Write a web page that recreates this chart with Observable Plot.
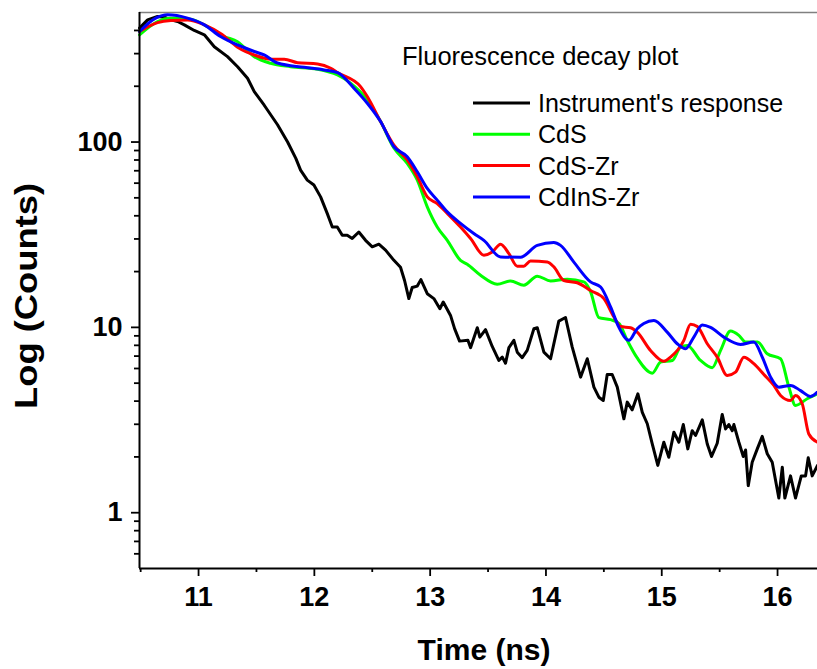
<!DOCTYPE html>
<html><head><meta charset="utf-8">
<script src="https://cdn.jsdelivr.net/npm/d3@7"></script>
<script src="https://cdn.jsdelivr.net/npm/@observablehq/plot@0.6"></script>
<style>
body{margin:0;background:#fff;}
#wrap{position:relative;width:817px;height:669px;font-family:Arial,"Liberation Sans",sans-serif;}
</style></head><body><div id="wrap"></div>
<script>
// ---- data (time in ns, counts) ----
const seriesNames = ["Instrument's response", "CdS", "CdS-Zr", "CdInS-Zr"];
const seriesColors = ["#000000", "#00ff00", "#ff0000", "#0000ff"];

const tInstr = [10.49,10.56,10.646,10.704,10.761,10.819,10.877,10.963,11.05,11.136,11.25,11.337,11.423,11.481,11.567,11.682,11.769,11.84,11.881,11.939,11.996,12.054,12.111,12.155,12.198,12.241,12.284,12.327,12.384,12.442,12.5,12.557,12.615,12.687,12.744,12.779,12.816,12.845,12.889,12.92,12.975,13.032,13.084,13.113,13.176,13.211,13.254,13.326,13.349,13.407,13.429,13.478,13.536,13.593,13.623,13.651,13.68,13.723,13.752,13.795,13.838,13.896,13.925,13.982,14.04,14.111,14.169,14.227,14.299,14.357,14.414,14.457,14.495,14.529,14.572,14.616,14.673,14.702,14.745,14.794,14.832,14.875,14.918,14.966,15.018,15.061,15.105,15.148,15.186,15.225,15.263,15.292,15.35,15.393,15.43,15.479,15.522,15.551,15.579,15.609,15.623,15.666,15.704,15.724,15.747,15.781,15.825,15.868,15.911,15.954,16.011,16.041,16.063,16.112,16.155,16.205,16.242,16.265,16.299,16.345];
const cInstr = [412,456,476,472,456,447,429,400,379,327,289,255,221,187,158,124,100,81.6,70.6,62.3,58.6,50.6,41.2,34.8,34.8,31.4,31.4,30.2,32.7,29.5,27.2,28.1,26.1,23.0,21.1,17.9,14.3,16.4,16.7,18.1,15.2,14.3,12.6,13.7,11.6,9.84,8.43,8.51,7.77,9.96,8.86,9.72,7.89,6.63,6.91,6.41,7.77,8.51,7.35,6.86,7.51,9.84,9.96,7.35,6.77,10.8,11.3,7.82,5.39,6.77,4.76,4.20,4.03,5.57,5.57,4.76,3.21,3.95,3.59,4.38,3.48,3.02,2.35,1.80,2.40,1.99,2.72,2.40,2.99,2.21,2.77,2.61,3.17,2.35,2.01,2.37,3.39,2.83,2.99,2.77,2.99,2.40,2.01,2.18,1.40,1.87,2.21,2.58,2.08,1.87,1.20,1.76,1.20,1.58,1.20,1.58,1.58,1.98,1.58,1.80];

const tCdS = [10.49,10.646,10.758,10.931,11.05,11.222,11.337,11.481,11.622,11.794,12.028,12.2,12.313,12.457,12.572,12.687,12.802,12.889,12.975,13.061,13.148,13.262,13.32,13.435,13.579,13.694,13.809,13.925,14.04,14.184,14.327,14.385,14.457,14.558,14.63,14.702,14.788,14.918,14.99,15.091,15.162,15.22,15.335,15.436,15.508,15.594,15.666,15.724,15.827,15.911,16.026,16.098,16.155,16.256,16.345];
const cCdS = [379,447,466,460,429,371,348,289,266,255,247,230,208,169,129,92.8,76.7,62.3,44.7,34.8,29.5,23.0,21.9,19.1,17.1,17.8,16.9,18.9,17.8,18.2,17.6,15.6,11.3,11.0,10.5,8.51,6.84,5.66,6.49,6.63,7.82,7.99,6.63,6.06,7.51,9.55,9.05,8.33,8.33,7.21,6.77,4.76,3.79,4.12,4.38];

const tCdSZr = [10.49,10.646,10.761,10.905,11.05,11.193,11.337,11.481,11.624,11.74,11.855,12.028,12.142,12.2,12.399,12.457,12.572,12.687,12.802,12.889,12.975,13.061,13.148,13.262,13.349,13.464,13.536,13.608,13.68,13.752,13.809,13.867,14.011,14.068,14.155,14.27,14.385,14.5,14.586,14.644,14.731,14.788,14.903,15.018,15.076,15.191,15.249,15.307,15.393,15.479,15.566,15.637,15.709,15.795,15.882,15.968,16.026,16.112,16.155,16.213,16.27,16.345];
const cCdSZr = [395,441,453,456,429,384,325,295,280,280,268,264,250,237,199,176,129,96.3,80,64.9,50.6,46.6,41.2,34.8,30.2,24.5,25.5,28.1,25.0,21.4,21.4,22.8,22.5,21.2,17.9,17.4,15.8,14.3,11.4,10.1,9.96,9.43,7.51,6.57,6.91,8.51,10.4,10.1,8.16,6.91,5.50,5.73,6.91,6.37,5.57,4.86,4.29,4.03,4.29,3.87,2.66,2.40];

const tCdInSZr = [10.49,10.63,10.732,10.905,11.05,11.19,11.337,11.481,11.567,11.682,11.913,12.085,12.2,12.356,12.457,12.572,12.687,12.802,12.889,12.975,13.061,13.148,13.262,13.377,13.464,13.608,13.781,13.925,14.068,14.126,14.241,14.385,14.472,14.558,14.63,14.716,14.788,14.845,14.932,15.047,15.134,15.206,15.277,15.35,15.421,15.536,15.68,15.795,15.868,15.94,16.011,16.112,16.199,16.285,16.343];
const cCdInSZr = [395,466,486,466,429,371,334,308,295,267,253,245,237,191,162,129,94.3,83.3,69.1,56.2,48.6,42.0,36.4,32.1,29.5,24.0,23.9,27.7,28.7,27.7,22.5,17.6,16.5,12.9,10.0,8.51,9.84,10.5,10.9,9.43,8.16,7.67,8.86,10.3,10.0,8.86,8.09,8.33,6.91,5.39,4.76,4.86,4.56,4.24,4.47];

const xMajorTicks = [11, 12, 13, 14, 15, 16];
const xMinorTicks = [10.5, 11.5, 12.5, 13.5, 14.5, 15.5];
const yMajorTicks = [1, 10, 100];
const yMinorTicks = [0.6,0.7,0.8,0.9,2,3,4,5,6,7,8,9,20,30,40,50,60,70,80,90,200,300,400];
const xDomain = [10.49, 16.345];
const yDomain = [0.5, 500];
const chartTitle = "Fluorescence decay plot";
const xLabel = "Time (ns)";
const yLabel = "Log (Counts)";

// ---- build tables ----
const times = [tInstr, tCdS, tCdSZr, tCdInSZr];
const counts = [cInstr, cCdS, cCdSZr, cCdInSZr];
const rows = [];
seriesNames.forEach((name, i) => {
  times[i].forEach((t, j) => rows.push({series: name, t, c: counts[i][j]}));
});
const noisy = rows.filter(d => d.series === seriesNames[0]);
const smooth = rows.filter(d => d.series !== seriesNames[0]);

const FONT = 'Arial, "Liberation Sans", sans-serif';
const plot = Plot.plot({
  width: 817, height: 669,
  marginLeft: 139, marginRight: 0, marginTop: 12, marginBottom: 101,
  style: {fontFamily: FONT, background: "#fff", overflow: "visible", color: "#000"},
  x: {domain: xDomain, label: null},
  y: {type: "log", domain: yDomain, label: null},
  color: {domain: seriesNames, range: seriesColors},
  marks: [
    Plot.ruleY([yDomain[1]], {stroke: "#808080", strokeWidth: 1.5}),
    Plot.line(noisy, {x: "t", y: "c", z: "series", stroke: "series", strokeWidth: 3, strokeLinejoin: "round", curve: "linear"}),
    Plot.line(smooth, {x: "t", y: "c", z: "series", stroke: "series", strokeWidth: 3, strokeLinejoin: "round", curve: "monotone-x"}),
    Plot.axisX({ticks: xMinorTicks, tickSize: 4, tickFormat: () => "", strokeWidth: 1.8, label: null}),
    Plot.axisX({ticks: xMajorTicks, tickSize: 8, tickPadding: 10, tickFormat: d => String(d), fontSize: 27, fontWeight: "bold", strokeWidth: 1.8, label: null}),
    Plot.axisY({ticks: yMinorTicks, tickSize: 5, tickFormat: () => "", strokeWidth: 1.8, label: null}),
    Plot.axisY({ticks: yMajorTicks, tickSize: 8, tickPadding: 9, tickFormat: d => String(d), fontSize: 27, fontWeight: "bold", strokeWidth: 1.8, label: null}),
    Plot.ruleY([yDomain[0]], {stroke: "#000", strokeWidth: 2}),
    Plot.ruleX([xDomain[0]], {stroke: "#000", strokeWidth: 2})
  ]
});
document.getElementById("wrap").appendChild(plot);

// ---- titles & legend (layout only) ----
const svg = d3.select(plot);
svg.append("text").attr("x", 484).attr("y", 660).attr("text-anchor", "middle")
  .attr("font-family", FONT).attr("font-size", 30).attr("font-weight", "bold").attr("fill", "#000").text(xLabel);
svg.append("text").attr("transform", "translate(37,296) rotate(-90)").attr("text-anchor", "middle")
  .attr("textLength", 226).attr("lengthAdjust", "spacingAndGlyphs")
  .attr("font-family", FONT).attr("font-size", 31).attr("font-weight", "bold").attr("fill", "#000").text(yLabel);
svg.append("text").attr("x", 402).attr("y", 65).attr("text-anchor", "start")
  .attr("font-family", FONT).attr("font-size", 25.5).attr("fill", "#000").text(chartTitle);
const lg = svg.append("g").attr("text-anchor", "start");
seriesNames.forEach((name, i) => {
  const y = 103 + i * 31.3;
  lg.append("line").attr("x1", 473).attr("x2", 530).attr("y1", y).attr("y2", y)
    .attr("stroke", seriesColors[i]).attr("stroke-width", 3);
  lg.append("text").attr("x", 538).attr("y", y + 9).attr("text-anchor", "start")
    .attr("font-family", FONT).attr("font-size", 25).attr("fill", "#000").text(name);
});
</script></body></html>
